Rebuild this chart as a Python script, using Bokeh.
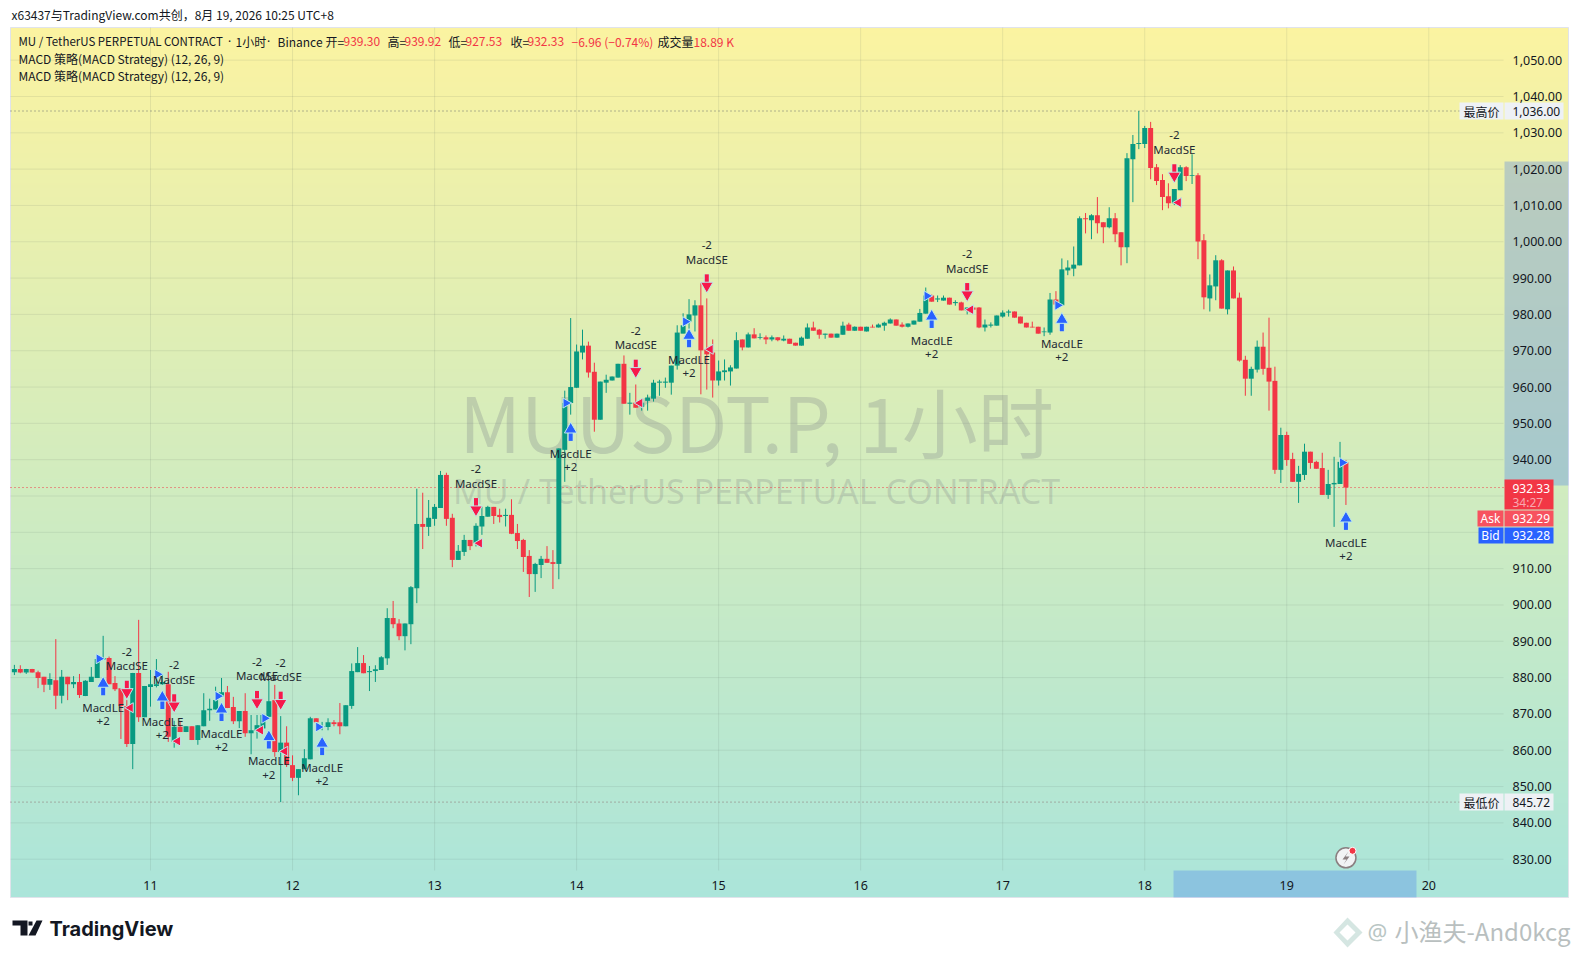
import math
import numpy as np
from bokeh.core.properties import value
from bokeh.embed import file_html
from bokeh.models import FixedTicker, Label, PolyAnnotation, Range1d
from bokeh.plotting import figure
from bokeh.resources import INLINE

first_hour = -23
opens = [
 881.5,882.4,881.4,882.4,881.5,880.2,878.0,879.3,875.0,880.2,
 878.2,878.8,874.9,878.8,879.9,885.0,885.4,878.5,877.1,872.2,
 861.7,881.3,869.1,877.4,877.7,878.2,878.2,862.3,866.5,865.0,
 866.6,862.8,866.6,871.0,871.2,874.7,876.0,871.9,868.0,870.8,
 864.7,865.4,866.0,869.2,873.8,859.5,862.1,855.9,852.4,854.8,
 857.5,868.8,866.4,866.4,867.7,867.7,866.6,872.2,881.5,884.0,
 881.5,881.8,882.1,885.3,896.4,894.9,891.4,894.7,904.6,922.3,
 921.5,923.7,926.7,935.8,924.0,912.4,914.6,917.9,917.0,921.6,
 924.3,927.0,924.8,924.5,924.8,919.8,917.9,913.5,908.5,911.0,
 912.7,911.8,911.3,942.7,955.6,959.8,969.5,971.4,964.2,951.0,
 961.2,961.8,962.6,966.4,955.4,955.7,954.5,956.2,956.8,961.2,
 961.2,961.2,965.9,974.7,978.0,979.7,982.5,970.4,969.5,961.8,
 964.1,964.3,965.1,973.1,970.9,974.5,973.5,973.7,973.1,973.7,
 972.8,973.3,972.2,971.4,973.3,976.4,975.8,974.4,974.7,973.6,
 974.4,977.2,975.5,976.6,975.3,976.6,976.4,976.9,977.5,978.6,
 977.2,976.6,977.2,978.0,980.2,985.2,984.1,983.8,984.6,983.1,
 983.3,981.1,981.9,981.9,976.4,976.9,976.9,979.4,980.5,980.8,
 979.4,977.7,976.6,976.6,975.1,975.0,984.1,982.5,992.1,992.6,
 993.5,1006.5,1005.9,1007.3,1005.4,1004.0,1006.5,1002.6,998.5,1022.7,
 1026.9,1026.9,1031.3,1020.5,1017.0,1012.5,1010.6,1014.2,1020.5,1018.1,
 1018.3,1000.4,984.4,987.7,994.9,981.4,992.1,984.6,967.5,962.3,
 964.8,971.1,965.3,961.7,937.2,946.8,940.2,933.9,935.8,942.2,
 939.4,937.7,930.3,933.2,933.3,939.3]
highs = [
 883.5,883.4,882.4,882.4,881.9,880.2,881.2,890.6,882.1,880.2,
 880.4,881.0,879.3,882.9,885.8,891.5,885.8,880.4,877.1,873.8,
 881.3,895.9,877.7,882.1,885.1,880.7,881.6,868.1,868.1,866.6,
 866.6,866.9,875.7,874.2,877.5,879.9,877.7,874.7,870.8,875.7,
 869.7,869.7,869.7,879.1,878.0,869.4,866.6,858.6,854.8,860.3,
 869.2,868.8,867.8,868.8,868.3,873.0,872.4,883.9,888.4,886.2,
 883.2,883.4,885.9,899.1,901.1,896.1,894.9,905.2,932.0,930.9,
 928.9,927.8,936.9,936.4,925.1,916.5,919.3,917.9,922.5,927.1,
 927.3,927.0,926.5,926.5,929.1,922.3,918.2,915.1,911.6,913.5,
 916.2,915.1,943.1,959.0,979.0,971.7,975.8,972.5,966.7,961.5,
 963.4,962.9,966.4,968.7,958.4,960.7,955.7,957.9,962.0,962.0,
 962.6,965.9,977.0,980.3,984.2,983.9,988.6,984.4,973.1,967.3,
 967.6,966.0,975.1,973.1,975.0,976.2,974.8,974.2,974.2,973.7,
 974.2,973.3,972.2,973.9,977.5,978.0,976.0,974.7,974.7,974.7,
 978.0,977.7,976.7,976.6,976.6,977.2,977.5,978.0,978.9,978.6,
 977.8,977.5,978.3,981.5,987.4,985.5,985.2,985.2,984.6,983.9,
 983.5,981.9,981.9,982.0,978.6,977.8,979.7,981.1,981.3,980.8,
 979.4,977.7,978.0,976.6,976.4,985.9,986.4,995.4,994.9,998.7,
 1007.0,1007.9,1007.6,1012.3,1005.4,1009.5,1007.9,1002.6,1024.4,1029.4,
 1036.0,1031.9,1033.0,1021.4,1018.6,1016.1,1014.5,1021.1,1020.8,1024.1,
 1018.9,1002.1,991.0,996.3,995.2,992.1,993.2,986.0,968.6,965.6,
 972.8,975.0,979.1,965.6,948.8,947.7,941.9,938.3,944.4,942.2,
 939.7,941.9,937.2,940.8,944.9,939.92]
lows = [
 880.7,881.2,881.0,881.4,877.1,876.0,876.6,871.3,872.9,873.8,
 877.1,874.4,874.9,878.8,879.9,884.9,878.2,876.3,863.1,860.9,
 854.8,867.8,869.1,872.0,877.3,878.0,862.3,860.7,865.0,865.0,
 862.8,861.5,866.6,868.1,871.2,874.7,871.6,867.2,866.1,863.7,
 858.9,863.2,865.1,869.2,858.2,845.72,855.4,851.5,847.6,854.8,
 857.5,865.5,865.5,865.5,866.6,864.4,866.6,871.4,881.5,881.2,
 876.3,878.8,882.1,883.5,893.6,890.3,887.5,889.2,900.5,915.4,
 919.0,921.8,926.7,921.8,910.4,912.4,913.5,915.1,916.1,919.3,
 924.3,922.3,922.7,921.6,919.5,915.4,909.1,902.2,903.6,907.4,
 911.6,904.4,907.1,933.9,952.4,959.8,967.6,962.6,947.7,951.0,
 958.4,961.8,962.6,955.4,952.4,954.3,953.5,953.5,956.0,957.6,
 959.8,957.9,964.8,974.8,975.9,975.3,958.0,959.3,957.1,960.4,
 961.8,960.4,965.1,970.1,970.9,973.4,973.1,971.8,972.6,972.6,
 972.6,971.9,971.4,971.4,973.3,975.5,973.3,973.3,973.6,973.6,
 974.4,975.5,975.5,975.5,975.3,976.4,976.4,975.5,977.5,976.9,
 976.4,976.4,977.2,978.0,980.2,983.5,983.4,983.8,982.7,982.4,
 981.1,980.0,981.3,976.2,975.3,976.4,976.9,979.1,979.4,979.1,
 977.5,976.4,976.4,974.7,974.0,974.4,982.7,982.5,990.8,990.5,
 993.5,1002.3,1000.7,1002.3,999.6,1003.7,999.9,993.5,994.1,1010.9,
 1025.5,1025.8,1017.2,1015.6,1008.7,1009.2,1010.1,1014.2,1016.7,1015.9,
 995.2,981.4,980.8,983.9,981.6,980.0,984.4,967.0,957.6,957.6,
 964.0,963.4,953.5,936.1,933.6,938.3,933.9,928.1,934.4,937.5,
 937.5,930.3,929.2,921.5,933.3,927.53]
closes = [
 882.4,881.4,882.4,881.4,879.9,878.0,879.6,875.0,880.2,878.2,
 878.8,875.2,879.1,880.2,885.1,885.4,878.2,876.8,872.2,861.7,
 881.3,869.1,877.7,878.2,878.2,878.8,863.7,866.5,865.0,866.6,
 862.8,866.9,871.0,871.4,873.8,876.0,871.6,868.0,870.8,864.7,
 865.5,866.9,869.7,873.5,859.5,862.1,856.0,852.4,854.8,857.8,
 868.8,867.7,866.6,867.7,867.2,866.6,872.4,881.8,884.0,881.2,
 881.8,882.3,885.6,896.4,894.7,891.4,894.9,904.9,922.3,921.5,
 924.0,927.0,935.8,923.7,912.4,914.9,917.9,916.2,921.8,924.5,
 927.0,924.5,924.2,924.8,919.6,917.6,913.2,908.5,911.3,912.7,
 911.6,911.3,943.1,955.6,960.0,969.8,971.4,964.0,951.0,961.5,
 962.0,962.9,966.4,955.4,955.7,954.3,955.7,957.1,961.2,961.5,
 961.5,965.9,975.0,977.0,980.0,982.5,970.1,969.0,961.8,964.3,
 964.6,965.4,972.9,970.9,974.5,973.4,973.7,973.1,973.7,972.9,
 973.3,971.9,971.4,973.6,976.4,975.5,974.4,974.7,973.6,974.7,
 976.9,975.5,976.6,975.5,976.6,976.4,977.2,977.7,978.6,976.9,
 976.6,977.5,978.3,980.4,985.2,983.5,984.4,984.6,982.7,983.4,
 981.1,981.9,981.3,976.4,977.2,977.2,979.7,980.5,980.8,979.1,
 977.5,976.4,976.4,974.7,975.3,984.1,982.7,992.4,992.9,993.7,
 1006.5,1006.2,1007.3,1005.1,1004.0,1006.5,1002.1,998.5,1023.0,1026.9,
 1027.2,1031.3,1020.3,1016.7,1012.3,1010.6,1014.5,1020.5,1018.1,1018.3,
 1000.1,984.7,988.0,994.9,981.6,992.1,984.4,967.3,962.3,965.0,
 971.1,965.0,961.5,937.2,946.8,939.9,933.9,936.1,942.2,939.1,
 937.5,930.3,933.3,933.6,939.4,932.33]

price_ticks = [830,840,850,860,870,880,890,900,910,940,950,960,970,980,990,1000,1010,1020,1030,1040,1050]
grid_prices = price_ticks + [920,930]
day_hours = [0,24,48,72,96,120,144,168,192,216]
day_labels = ["11","12","13","14","15","16","17","18","19","20"]

long_hours = [-8,2,12,20,29,71,91,132,154,202]
long_tips = [879.3,875.5,872.2,864.6,862.8,949.3,975.1,980.4,979.5,924.8]
short_hours = [-4,4,18,22,55,82,94,138,173]
short_tips = [875.0,871.3,872.2,872.0,925.3,963.4,986.9,984.5,1017.2]
entry_hours = [-8.7,1.2,11.4,19.3,28.4,70.2,90.4,131.2,153.3,201.4]
entry_prices = [885.2,880.9,874.9,868.8,866.4,955.6,978.0,985.1,982.5,939.2]
exit_hours = [-3.4,4.6,18.6,22.7,55.6,82.7,94.6,138.6,173.7]
exit_prices = [871.7,862.5,865.5,859.7,917.0,955.6,970.4,981.3,1010.8]

high_price, low_price, last_price = 1036.0, 845.72, 932.33

# pixel <-> data calibration of the reference
HOUR0_PX, PX_PER_HOUR, P830_PX, PX_PER_USD = 150.0, 5.918, 858.7, 3.632
def hx(px): return (px - HOUR0_PX) / PX_PER_HOUR
def py(px): return 830 + (P830_PX - px) / PX_PER_USD
PUP = 1 / PX_PER_USD

W, H = 1578, 957
p = figure(frame_width=W, frame_height=H, min_border=0, output_backend="svg", toolbar_location=None,
           x_range=Range1d(hx(0), hx(W)), y_range=Range1d(py(H), py(0)),
           y_axis_location="right", background_fill_color="#ffffff", border_fill_color="#ffffff",
           outline_line_color=None)
p.grid.visible = False

# background gradient
N = 435
top, bot = (251, 243, 161), (171, 229, 218)
img = np.zeros((N, 1), dtype=np.uint32)
view = img.view(np.uint8).reshape((N, 1, 4))
for r in range(N):
    t = r / (N - 1)
    view[r, 0, 0] = round(bot[0] + (top[0] - bot[0]) * t)
    view[r, 0, 1] = round(bot[1] + (top[1] - bot[1]) * t)
    view[r, 0, 2] = round(bot[2] + (top[2] - bot[2]) * t)
    view[r, 0, 3] = 255
p.image_rgba(image=[img], x=hx(10), y=py(897), dw=hx(1568) - hx(10), dh=py(27) - py(897), level="image")
p.quad(left=[hx(10)], right=[hx(1568)], top=[py(27)], bottom=[py(897)], fill_alpha=0, line_color="#E0E3EB", level="underlay")

# grid
grid_right, grid_bottom = hx(1503), py(870)
p.segment(x0=[hx(10)] * len(grid_prices), x1=[grid_right] * len(grid_prices), y0=grid_prices, y1=grid_prices,
          line_color="#5a6a60", line_alpha=0.12, line_width=1, level="underlay")
p.segment(x0=day_hours, x1=day_hours, y0=[grid_bottom] * len(day_hours), y1=[py(27)] * len(day_hours),
          line_color="#5a6a60", line_alpha=0.12, line_width=1, level="underlay")

# symbol watermark
p.text(x=[hx(756)], y=[py(419)], text=["MUUSDT.P, 1小时"], text_align="center", text_baseline="middle",
       text_font=value("Noto Sans CJK SC"), text_font_size=value("76px"), text_color="rgba(120,123,134,0.27)", level="underlay")
p.text(x=[hx(756)], y=[py(490)], text=["MU / TetherUS PERPETUAL CONTRACT"], text_align="center", text_baseline="middle",
       text_font=value("Noto Sans"), text_font_size=value("34px"), text_color="rgba(120,123,134,0.25)", level="underlay")

# axis highlight strips
p.quad(left=[hx(1504)], right=[hx(1568)], top=[py(161)], bottom=[py(485)], fill_color="#4176F0", fill_alpha=0.3, line_color=None)
p.quad(left=[hx(1173)], right=[hx(1416)], top=[py(870)], bottom=[py(897)], fill_color="#4176F0", fill_alpha=0.3, line_color=None)

# reference price lines
p.segment(x0=[hx(10)], x1=[hx(1460)], y0=[high_price], y1=[high_price], line_color="#6b7070", line_dash="1 3")
p.segment(x0=[hx(10)], x1=[hx(1460)], y0=[low_price], y1=[low_price], line_color="#8a6f70", line_dash="1 3")
p.segment(x0=[hx(10)], x1=[hx(1504)], y0=[last_price], y1=[last_price], line_color="#F23645", line_dash="1 3")

# candles
hours = list(range(first_hour, first_hour + len(opens)))
colors = ["#089981" if c >= o else "#F23645" for o, c in zip(opens, closes)]
p.segment(x0=hours, x1=hours, y0=lows, y1=highs, line_color=colors, line_width=1)
p.vbar(x=hours, width=0.84, bottom=[min(a, b) for a, b in zip(opens, closes)],
       top=[max(a, b) for a, b in zip(opens, closes)], fill_color=colors, line_color=None)

# strategy markers
halo = "#BFEAEA"
BLUE, RED = "#2962FF", "#F7184B"
def arrow(xs, tips, sign, color):
    tail = [t - sign * 15 * PUP for t in tips]
    neck = [t - sign * 4 * PUP for t in tips]
    head = [t - sign * 3.5 * PUP for t in tips]
    ang = 0 if sign > 0 else math.pi
    p.segment(x0=xs, x1=xs, y0=tail, y1=neck, line_color=halo, line_width=6.5, line_alpha=0.75)
    p.segment(x0=xs, x1=xs, y0=tail, y1=neck, line_color=color, line_width=4)
    p.scatter(x=xs, y=head, marker="triangle", size=12.5, angle=ang, fill_color=color, line_color=halo, line_width=1)
arrow(long_hours, long_tips, 1, BLUE)
arrow(short_hours, short_tips, -1, RED)
p.scatter(x=entry_hours, y=entry_prices, marker="triangle", size=10, angle=-math.pi / 2, fill_color=BLUE, line_color=halo, line_width=1)
p.scatter(x=exit_hours, y=exit_prices, marker="triangle", size=10, angle=math.pi / 2, fill_color=RED, line_color=halo, line_width=1)

def sig_text(xs, ys, s):
    p.text(x=xs, y=ys, text=[s] * len(xs), text_align="center", text_baseline="middle",
           text_font=value("Noto Sans"), text_font_size=value("11.5px"), text_color="#1f2a33")
sig_text(long_hours, [t - 27.3 * PUP for t in long_tips], "MacdLE")
sig_text(long_hours, [t - 41 * PUP for t in long_tips], "+2")
sig_text(short_hours, [t + 30 * PUP for t in short_tips], "MacdSE")
sig_text(short_hours, [t + 44 * PUP for t in short_tips], "-2")

# event icon
p.scatter(x=[202], y=[py(857.3)], marker="circle", size=20, fill_color="#F1F3F4", line_color="#8a7f80", line_width=1.5)
p.scatter(x=[hx(1352)], y=[py(850.3)], marker="circle", size=7, fill_color="#F23645", line_color="#ffffff", line_width=1)

# price tags
def tag(px_l, px_r, cy, h, color):
    p.quad(left=[hx(px_l)], right=[hx(px_r)], top=[py(cy - h / 2)], bottom=[py(cy + h / 2)], fill_color=color, line_color=None)
def tag_text(px, cy, s, color, font="Noto Sans", align="left"):
    p.text(x=[hx(px)], y=[py(cy)], text=[s], text_align=align, text_baseline="middle", text_font=value(font),
           text_font_size=value("12px"), text_color=color)

y_high, y_low = P830_PX - (high_price - 830) * PX_PER_USD, P830_PX - (low_price - 830) * PX_PER_USD
for cy, name, val in [(y_high, "最高价", "1,036.00"), (y_low, "最低价", "845.72")]:
    tag(1459, 1503, cy, 17, "#EEF1F5")
    tag(1504, 1553 if val == "845.72" else 1563, cy, 17, "#EEF1F5")
    tag_text(1481, cy, name, "#131722", "Noto Sans CJK SC", "center")
    tag_text(1512, cy, val, "#131722")
tag(1504, 1553, 494, 30, "#F23645")
tag_text(1512, 487.7, "932.33", "#ffffff")
tag_text(1512, 501.7, "34:27", "#F9A9B0")
tag(1477, 1503, 518, 16, "#F7525F")
tag(1504, 1553, 518, 16, "#F7525F")
tag_text(1490, 518, "Ask", "#ffffff", "Noto Sans", "center")
tag_text(1512, 518, "932.29", "#ffffff")
tag(1478, 1503, 535, 16, "#2962FF")
tag(1504, 1553, 535, 16, "#2962FF")
tag_text(1490, 535, "Bid", "#ffffff", "Noto Sans", "center")
tag_text(1512, 535, "932.28", "#ffffff")

# axes (drawn inside the pane, as in the reference)
ya = p.yaxis[0]
ya.ticker = FixedTicker(ticks=price_ticks)
ya.major_label_overrides = {t: f"{t:,.2f}" for t in price_ticks}
ya.major_label_standoff = 1506 - W
ya.major_label_text_font = "Noto Sans"
ya.major_label_text_font_size = "12.5px"
ya.major_label_text_color = "#131722"
ya.axis_line_color = None
ya.major_tick_line_color = None
ya.minor_tick_line_color = None

xa = p.xaxis[0]
xa.ticker = FixedTicker(ticks=day_hours)
xa.major_label_overrides = dict(zip(day_hours, day_labels))
xa.major_label_standoff = 874 - H
xa.major_label_text_font = "Noto Sans"
xa.major_label_text_font_size = "12.5px"
xa.major_label_text_color = "#131722"
xa.axis_line_color = None
xa.major_tick_line_color = None
xa.minor_tick_line_color = None

# canvas-positioned texts
def lab(x, y, s, color="#131722", size="12px", font="Noto Sans CJK SC", style="normal", align="left"):
    p.add_layout(Label(x=x, y=y, x_units="canvas", y_units="canvas", text=s, text_color=color,
                       text_font=font, text_font_size=size, text_font_style=style, text_baseline="middle", text_align=align))
lab(11, 13.5, "x63437与TradingView.com共创，8月 19, 2026 10:25 UTC+8")
R = "#F23645"
lab(18, 40.5, "MU / TetherUS PERPETUAL CONTRACT", size="11.5px")
lab(229, 40.5, "·", font="Noto Sans", align="center")
lab(268, 40.5, "·", font="Noto Sans", align="center")
for x, s, c in [(235, "1小时", None), (277, "Binance", None), (325, "开=", None), (343, "939.30", R), (387, "高=", None),
                (404, "939.92", R), (448, "低=", None), (465, "927.53", R), (510, "收=", None), (527, "932.33", R),
                (571, "−6.96 (−0.74%)", R), (657, "成交量", None), (693, "18.89 K", R)]:
    lab(x, 40.5, s, c or "#131722")
lab(18, 57.5, "MACD 策略(MACD Strategy) (12, 26, 9)")
lab(18, 74.5, "MACD 策略(MACD Strategy) (12, 26, 9)")
lab(49, 928, "TradingView", "#131722", "20px", "Inter", "bold")
lab(1367, 930, "@", "#B9C6C4", "22px", "Noto Sans")
lab(1394, 930, "小渔夫-And0kcg", "#B9BFBF", "24px", "Noto Sans CJK SC")

def poly(xs, ys, fill="#131722", line=None, alpha=1.0):
    p.add_layout(PolyAnnotation(xs=xs, ys=ys, xs_units="canvas", ys_units="canvas",
                                fill_color=fill, fill_alpha=alpha, line_color=line, level="annotation"))
poly([12, 27, 27, 20, 20, 12], [920, 920, 935, 935, 925, 925])
poly([36, 42, 35, 28], [920, 920, 935, 935])
poly([28, 32, 32, 28], [921, 921, 925, 925])
poly([1347, 1362, 1347, 1333], [917, 932, 947, 932], fill="#D5E6E2")
poly([1347, 1355, 1347, 1339], [924, 932, 940, 932], fill="#ffffff")
poly([1348, 1342, 1346, 1343, 1349, 1345], [851, 859, 859, 864, 856, 856], fill="#8a7f80")

open("out.html", "w").write(file_html(p, INLINE))
